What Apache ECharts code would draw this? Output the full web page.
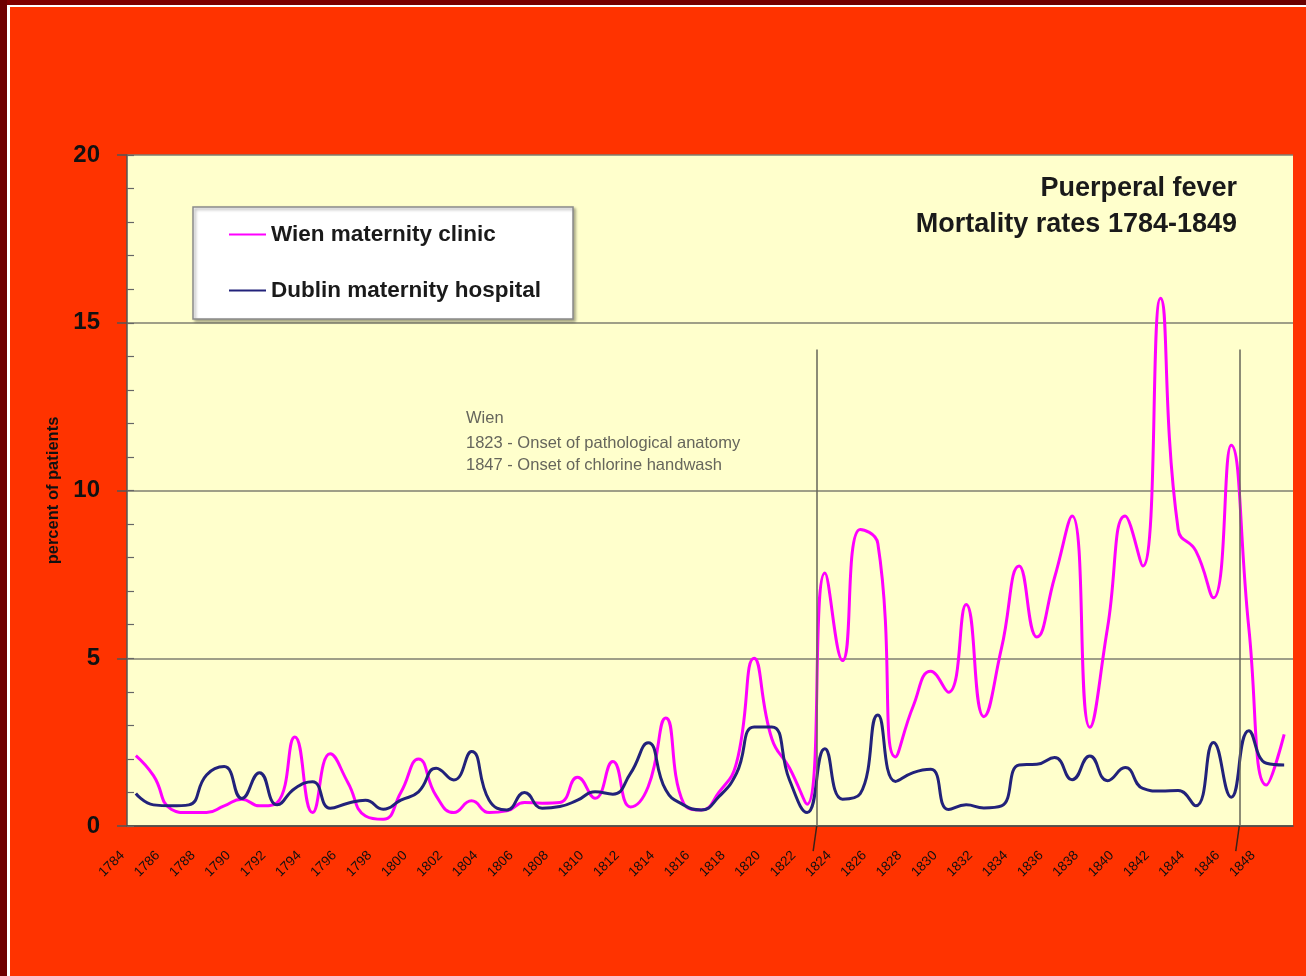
<!DOCTYPE html>
<html><head><meta charset="utf-8">
<script src="https://cdn.jsdelivr.net/npm/echarts@6/dist/echarts.min.js"></script>
<style>html,body{margin:0;padding:0;background:#FF3300;}#c{width:1306px;height:976px;}</style>
</head><body><div id="c"></div><script>
const years = ['1784','1785','1786','1787','1788','1789','1790','1791','1792','1793',
  '1794','1795','1796','1797','1798','1799','1800','1801','1802','1803',
  '1804','1805','1806','1807','1808','1809','1810','1811','1812','1813',
  '1814','1815','1816','1817','1818','1819','1820','1821','1822','1823',
  '1824','1825','1826','1827','1828','1829','1830','1831','1832','1833',
  '1834','1835','1836','1837','1838','1839','1840','1841','1842','1843',
  '1844','1845','1846','1847','1848','1849'];
const wienRates = [2.1,1.5,0.5,0.4,0.4,0.6,0.8,0.6,0.7,2.65,
  0.4,2.15,1.3,0.3,0.2,1.0,2.0,0.9,0.4,0.75,
  0.4,0.45,0.7,0.68,0.7,1.45,0.83,1.92,0.57,1.17,
  3.22,0.68,0.48,1.0,1.88,5.0,2.6,1.73,0.65,7.54,
  4.93,8.84,8.42,2.06,3.57,4.61,3.99,6.6,3.26,5.3,
  7.75,5.63,7.4,9.24,2.94,5.9,9.24,7.75,15.73,8.84,
  8.2,6.8,11.35,5.9,1.22,2.73];
const dublinRates = [0.97,0.63,0.6,0.63,1.52,1.77,0.82,1.59,0.63,1.12,
  1.32,0.53,0.68,0.77,0.5,0.77,1.02,1.72,1.37,2.22,
  0.77,0.48,1.0,0.53,0.58,0.77,1.02,0.95,1.57,2.48,
  1.07,0.63,0.48,0.87,1.57,2.95,2.95,1.37,0.4,2.3,
  0.8,0.96,3.31,1.33,1.59,1.69,0.49,0.63,0.54,0.6,
  1.82,1.84,2.04,1.38,2.09,1.35,1.74,1.12,1.04,1.06,
  0.6,2.49,0.86,2.84,1.87,1.82];
const seriesNames = ['Wien maternity clinic', 'Dublin maternity hospital'];
const yAxisName = 'percent of patients';
const chartTitle = 'Puerperal fever\nMortality rates 1784-1849';
const noteHead = 'Wien';
const noteLines = '1823 - Onset of pathological anatomy\n1847 - Onset of chlorine handwash';
// annotation (hand-drawn) vertical lines, in fractional year units, top value in percent
const annotationYears = [1822.54, 1846.46];
const annotationTop = 14.2;

const FONT = '"Liberation Sans", Arial, sans-serif';
const chart = echarts.init(document.getElementById('c'));
const markData = annotationYears.map(function (yr) {
  return [{coord: [yr, annotationTop]}, {coord: [yr, 0]}];
});
const frame = [
  {type: 'rect', shape: {x: 0, y: 0, width: 1306, height: 5}, z: 100,
   style: {fill: new echarts.graphic.LinearGradient(0, 0, 1, 0, [{offset: 0, color: '#800000'}, {offset: 1, color: '#6a0000'}])}},
  {type: 'rect', shape: {x: 0, y: 0, width: 7, height: 976}, z: 100, style: {fill: '#6e0000'}},
  {type: 'rect', shape: {x: 7, y: 5, width: 1299, height: 2}, z: 100, style: {fill: '#ffffff'}},
  {type: 'rect', shape: {x: 7, y: 5, width: 3, height: 971}, z: 100, style: {fill: '#ffffff'}}
];
const option = {
  animation: false,
  backgroundColor: '#FF3300',
  textStyle: {fontFamily: FONT},
  graphic: frame,
  title: [
    {text: chartTitle, left: 1237, top: 171, padding: 0, textAlign: 'right',
     textStyle: {fontSize: 27, fontWeight: 'bold', color: '#1a1a1a', lineHeight: 36, fontFamily: FONT}},
    {text: noteHead, left: 466, top: 408, padding: 0,
     textStyle: {fontSize: 16.5, fontWeight: 'normal', color: '#66665c', lineHeight: 20, fontFamily: FONT}},
    {text: noteLines, left: 466, top: 433, padding: 0,
     textStyle: {fontSize: 16.5, fontWeight: 'normal', color: '#66665c', lineHeight: 21.6, fontFamily: FONT}}
  ],
  legend: {
    orient: 'vertical', left: 193, top: 207, data: seriesNames,
    itemWidth: 37, itemHeight: 22, itemGap: 33,
    padding: [16, 32, 17, 35],
    itemStyle: {opacity: 0},
    backgroundColor: '#ffffff', borderColor: '#8a8a8a', borderWidth: 1.5,
    shadowColor: 'rgba(0,0,0,0.35)', shadowOffsetX: 2, shadowOffsetY: 2, shadowBlur: 3,
    textStyle: {fontSize: 22.5, fontWeight: 'bold', color: '#1a1a1a', fontFamily: FONT}
  },
  grid: {left: 127, right: 13, top: 155, bottom: 150, show: true, backgroundColor: '#FFFFCC', borderWidth: 0},
  xAxis: [
    {type: 'category', data: years, boundaryGap: true,
     axisLine: {lineStyle: {color: '#444', width: 1.5}},
     axisTick: {interval: 0, length: 5, lineStyle: {color: '#444'}},
     axisLabel: {interval: 1, rotate: 45, fontSize: 13.5, color: '#111', margin: 14, padding: [0, 19, 0, 0], fontFamily: FONT}},
    {type: 'value', min: 1783.5, max: 1849.5, show: false}
  ],
  yAxis: [
    {type: 'value', min: 0, max: 20, interval: 5,
     name: yAxisName, nameLocation: 'middle', nameGap: 64,
     nameTextStyle: {fontSize: 16.5, fontWeight: 'bold', color: '#111', fontFamily: FONT},
     axisLine: {show: true, lineStyle: {color: '#555', width: 1.5}},
     axisTick: {show: true, length: 10, lineStyle: {color: '#555', width: 1.5}},
     axisLabel: {fontSize: 24, fontWeight: 'bold', color: '#111', margin: 27, fontFamily: FONT},
     splitLine: {show: true, lineStyle: {color: '#7f7f70', width: 1.5}}},
    {type: 'value', min: 0, max: 20, interval: 1, position: 'left',
     axisLine: {show: false}, axisLabel: {show: false}, splitLine: {show: false},
     axisTick: {show: true, inside: true, length: 7, lineStyle: {color: '#666', width: 1.2}}}
  ],
  series: [
    {name: seriesNames[0], type: 'line', data: wienRates, smooth: 0.5, symbol: 'none',
     lineStyle: {color: '#FF00FF', width: 3}, itemStyle: {color: '#FF00FF'}, z: 3},
    {name: seriesNames[1], type: 'line', data: dublinRates, smooth: 0.5, symbol: 'none',
     lineStyle: {color: '#22227a', width: 3}, itemStyle: {color: '#22227a'}, z: 4},
    {name: 'annotations', type: 'line', xAxisIndex: 1, yAxisIndex: 0, data: [], silent: true,
     markLine: {symbol: 'none', silent: true, animation: false, label: {show: false},
       lineStyle: {color: '#66665a', width: 1.5, type: 'solid'}, data: markData}}
  ]
};
chart.setOption(option);
// short hand-drawn tails of the annotation lines below the axis, placed through the axes' scales
const tails = annotationYears.map(function (yr) {
  const p0 = chart.convertToPixel({xAxisIndex: 1, yAxisIndex: 0}, [yr, 0]);
  const p1 = chart.convertToPixel({xAxisIndex: 1, yAxisIndex: 0}, [yr - 0.2, -0.75]);
  return {type: 'line', z: 50, silent: true,
    shape: {x1: p0[0], y1: p0[1], x2: p1[0], y2: p1[1]},
    style: {stroke: '#3a2218', lineWidth: 1.5}};
});
chart.setOption({graphic: frame.concat(tails)});
</script></body></html>
